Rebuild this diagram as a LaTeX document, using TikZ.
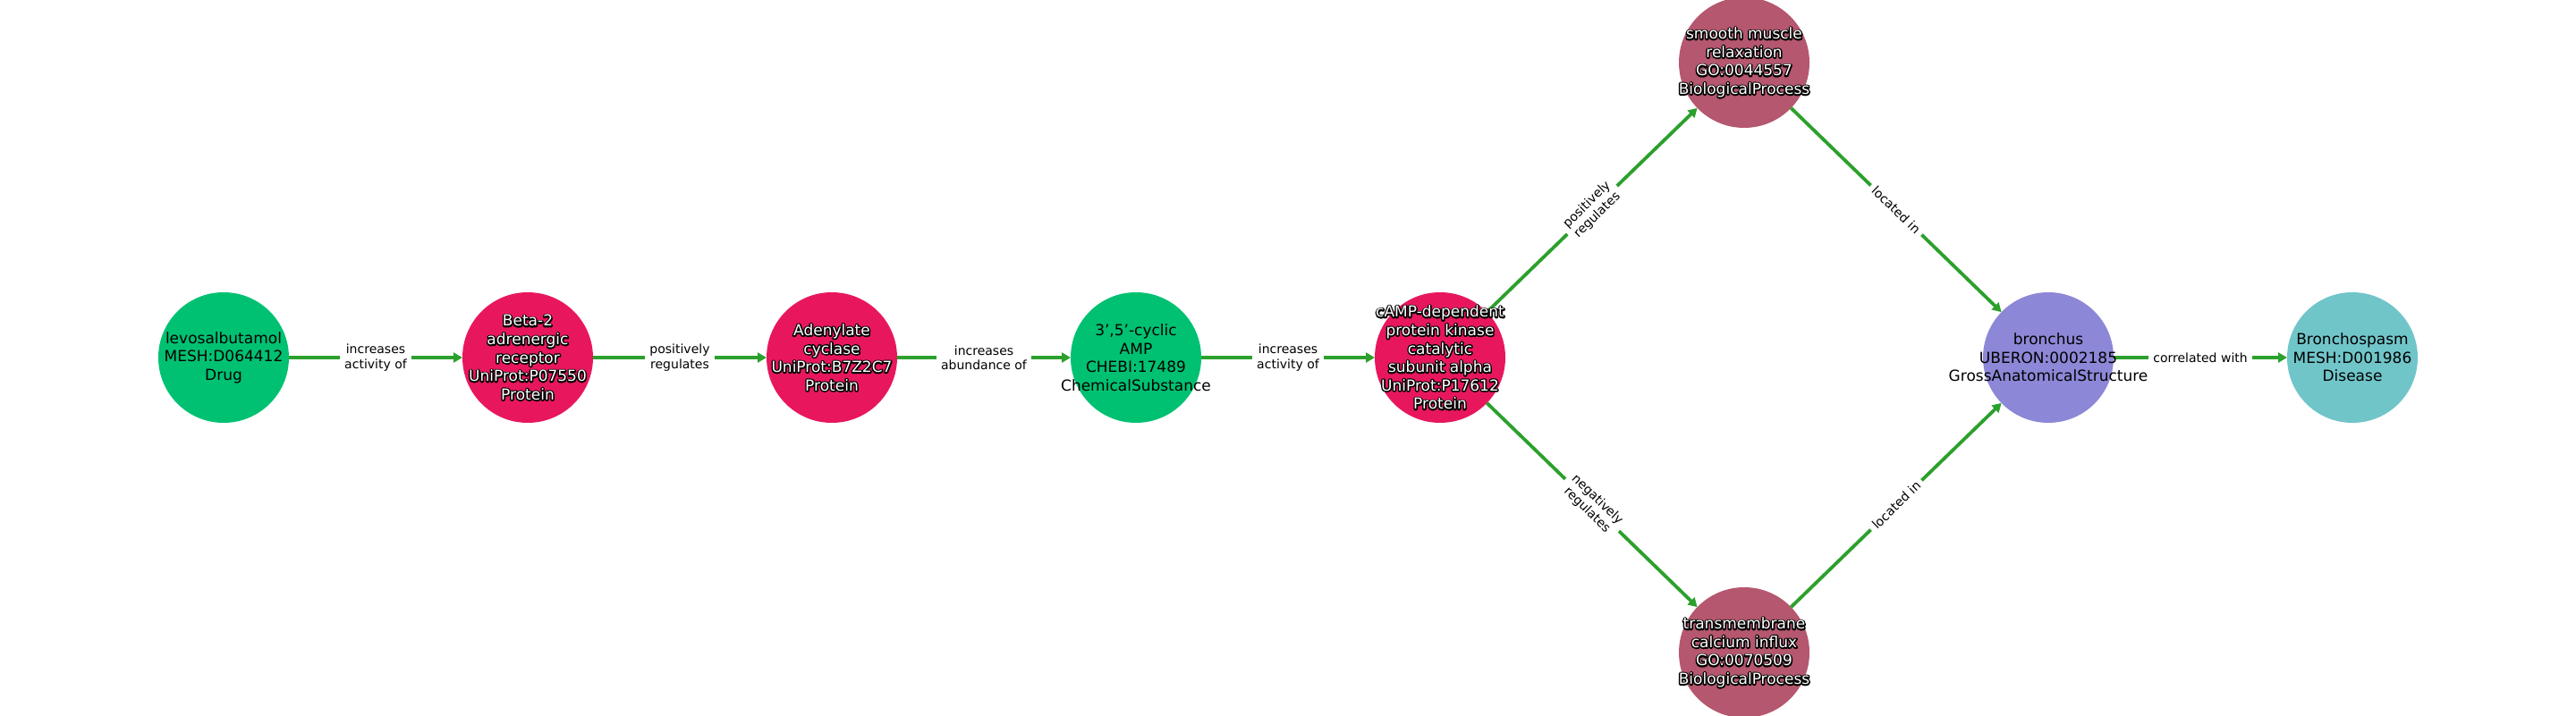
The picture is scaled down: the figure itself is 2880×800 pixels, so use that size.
\documentclass[tikz,border=0pt]{standalone}
\usepackage{fontspec}
\setmainfont{DejaVu Sans}
\usetikzlibrary{arrows.meta}
\definecolor{cgreen}{HTML}{00C172}
\definecolor{cpink}{HTML}{E8175D}
\definecolor{cmauve}{HTML}{B5576E}
\definecolor{cpurple}{HTML}{8C87D6}
\definecolor{cteal}{HTML}{70C5C9}
\definecolor{egreen}{HTML}{2CA02C}
\newcommand{\olt}[1]{\rlap{\special{pdf:literal direct 1 Tr 1.5 w 1 j 0 0 0 RG}#1\special{pdf:literal direct 0 Tr}}{\color{white}#1}}
\tikzset{
  circ/.style={circle, minimum size=73pt, inner sep=0pt, outer sep=0pt, draw=none},
  ntext/.style={align=center, font=\fontsize{8.5}{10.3}\selectfont, inner sep=0pt, text=black},
  conn/.style={draw=egreen, line width=1.9pt, -{Triangle[length=5pt,width=5.5pt]}},
  elabel/.style={fill=white, font=\fontsize{7}{8.2}\selectfont, align=center, inner sep=2.5pt, midway, sloped, text=black}
}
\begin{document}
\begin{tikzpicture}[x=0.5pt,y=0.5pt]
\useasboundingbox (0,0) rectangle (2880,800);
% circles
\node[circ, fill=cgreen]  (n1) at (250,400) {};
\node[circ, fill=cpink]   (n2) at (590,400) {};
\node[circ, fill=cpink]   (n3) at (930,400) {};
\node[circ, fill=cgreen]  (n4) at (1270,400) {};
\node[circ, fill=cpink]   (n5) at (1610,400) {};
\node[circ, fill=cmauve]  (n6) at (1950,730) {};
\node[circ, fill=cmauve]  (n7) at (1950,70) {};
\node[circ, fill=cpurple] (n8) at (2290,400) {};
\node[circ, fill=cteal]   (n9) at (2630,400) {};
% edges
\draw[conn] (n1) -- node[elabel] {increases\\activity of} (n2);
\draw[conn] (n2) -- node[elabel] {positively\\regulates} (n3);
\draw[conn] (n3) -- node[elabel] {increases\\abundance of} (n4);
\draw[conn] (n4) -- node[elabel] {increases\\activity of} (n5);
\draw[conn] (n5) -- node[elabel] {positively\\regulates} (n6);
\draw[conn] (n5) -- node[elabel] {negatively\\regulates} (n7);
\draw[conn] (n6) -- node[elabel] {located in} (n8);
\draw[conn] (n7) -- node[elabel] {located in} (n8);
\draw[conn] (n8) -- node[elabel] {correlated with} (n9);
% texts
\node[ntext] (t1) at (n1) {levosalbutamol\\MESH:D064412\\Drug};
\node[ntext] (t2) at (n2) {\olt{Beta-2}\\\olt{adrenergic}\\\olt{receptor}\\\olt{UniProt:P07550}\\\olt{Protein}};
\node[ntext] (t3) at (n3) {\olt{Adenylate}\\\olt{cyclase}\\\olt{UniProt:B7Z2C7}\\\olt{Protein}};
\node[ntext] (t4) at (n4) {3',5'-cyclic\\AMP\\CHEBI:17489\\ChemicalSubstance};
\node[ntext] (t5) at (n5) {\olt{cAMP-dependent}\\\olt{protein kinase}\\\olt{catalytic}\\\olt{subunit alpha}\\\olt{UniProt:P17612}\\\olt{Protein}};
\node[ntext] (t6) at (n6) {\olt{smooth muscle}\\\olt{relaxation}\\\olt{GO:0044557}\\\olt{BiologicalProcess}};
\node[ntext] (t7) at (n7) {\olt{transmembrane}\\\olt{calcium influx}\\\olt{GO:0070509}\\\olt{BiologicalProcess}};
\node[ntext] (t8) at (n8) {bronchus\\UBERON:0002185\\GrossAnatomicalStructure};
\node[ntext] (t9) at (n9) {Bronchospasm\\MESH:D001986\\Disease};
\end{tikzpicture}
\end{document}
